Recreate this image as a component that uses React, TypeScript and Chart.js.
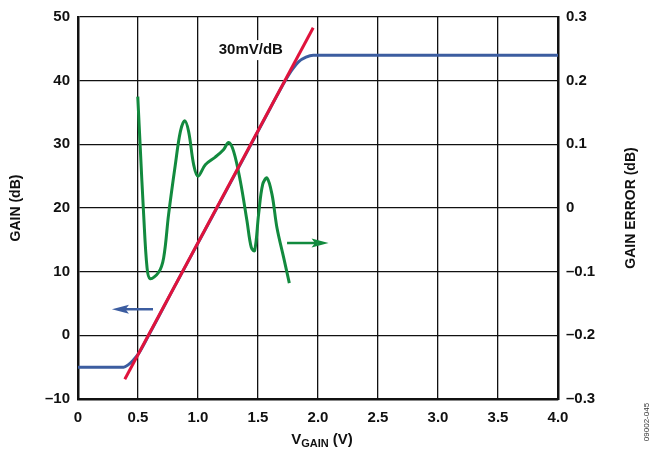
import React, { useEffect, useRef } from "react";
import { Chart, registerables } from "chart.js";

Chart.register(...registerables);

// ---- data ----
const xTicks = [0, 0.5, 1.0, 1.5, 2.0, 2.5, 3.0, 3.5, 4.0];
const gainTicks = [-10, 0, 10, 20, 30, 40, 50];
const errTicks = [-0.3, -0.2, -0.1, 0, 0.1, 0.2, 0.3];

// blue: measured gain (dB) vs VGAIN (V)
const gainV = [0, 0.1, 0.2, 0.3, 0.38, 0.42, 0.46, 0.5, 0.6, 0.8, 1.0, 1.2, 1.4, 1.6, 1.7, 1.78, 1.84, 1.9, 1.96, 2.0, 2.5, 3.0, 3.5, 4.0];
const gainDb = [-5, -5, -5, -5, -5, -4.6, -3.9, -3.0, 0.4, 7.5, 14.5, 21.5, 28.5, 35.6, 39.1, 41.6, 43.0, 43.7, 44, 44, 44, 44, 44, 44];

// red: 30 mV/dB ideal line
const idealV = [0.39, 1.96];
const idealDb = [-6.9, 48.3];

// green: gain error (dB)
const errV = [0.498, 0.519, 0.547, 0.575, 0.6, 0.672, 0.714, 0.755, 0.811, 0.853, 0.889, 0.922, 0.964, 1.0, 1.061, 1.144, 1.214, 1.255, 1.297, 1.353, 1.408, 1.444, 1.472, 1.505, 1.539, 1.575, 1.617, 1.658, 1.714, 1.761];
const errDb = [0.175, 0.094, -0.01, -0.093, -0.111, -0.101, -0.078, -0.01, 0.068, 0.12, 0.137, 0.12, 0.068, 0.05, 0.068, 0.08, 0.092, 0.103, 0.089, 0.042, -0.02, -0.062, -0.067, -0.01, 0.037, 0.047, 0.021, -0.031, -0.078, -0.118];

// annotation arrows: [tailX, tipX, y]
const blueArrow = [0.625, 0.283, 4.1];
const greenArrow = [1.742, 2.088, -0.055];
const slopeLabel = { text: "30mV/dB", x: 1.44, y: 44.8 };

const BLUE = "#3c5da0";
const RED = "#e0133c";
const GREEN = "#128a3e";
const FONT = "Arial, 'Liberation Sans', Helvetica, sans-serif";

const toPts = (xs: number[], ys: number[]) => xs.map((x, i) => ({ x, y: ys[i] }));

const fmt = (v: number) => {
  const r = Math.round(v * 10) / 10;
  if (r === 0) return "0";
  const s = Math.abs(r).toFixed(1);
  return (r < 0 ? "\u2013" : "") + s;
};
const fmtInt = (v: number) => (v < 0 ? "\u2013" + Math.abs(v) : String(v));

const drawArrow = (ctx: CanvasRenderingContext2D, x1: number, x2: number, y: number, color: string) => {
  const dir = Math.sign(x2 - x1);
  const headLen = 17;
  const headHalf = 4.5;
  ctx.save();
  ctx.strokeStyle = color;
  ctx.fillStyle = color;
  ctx.lineWidth = 2.5;
  ctx.beginPath();
  ctx.moveTo(x1, y);
  ctx.lineTo(x2 - dir * headLen * 0.6, y);
  ctx.stroke();
  ctx.beginPath();
  ctx.moveTo(x2, y);
  ctx.lineTo(x2 - dir * headLen, y - headHalf);
  ctx.lineTo(x2 - dir * headLen * 0.8, y);
  ctx.lineTo(x2 - dir * headLen, y + headHalf);
  ctx.closePath();
  ctx.fill();
  ctx.restore();
};

const annotPlugin = {
  id: "annot",
  afterDatasetsDraw(chart: any) {
    const ctx: CanvasRenderingContext2D = chart.ctx;
    const sx = chart.scales.x;
    const sy = chart.scales.y;
    const sy2 = chart.scales.y2;
    const area = chart.chartArea;

    // slope label with white box
    ctx.save();
    ctx.font = `bold 15px ${FONT}`;
    const lx = sx.getPixelForValue(slopeLabel.x);
    const ly = sy.getPixelForValue(slopeLabel.y);
    const w = ctx.measureText(slopeLabel.text).width;
    ctx.fillStyle = "#fff";
    ctx.fillRect(lx - w / 2 - 3, ly - 10, w + 6, 20);
    ctx.fillStyle = "#111";
    ctx.textAlign = "center";
    ctx.textBaseline = "middle";
    ctx.fillText(slopeLabel.text, lx, ly);
    ctx.restore();

    drawArrow(ctx, sx.getPixelForValue(blueArrow[0]), sx.getPixelForValue(blueArrow[1]), sy.getPixelForValue(blueArrow[2]), BLUE);
    drawArrow(ctx, sx.getPixelForValue(greenArrow[0]), sx.getPixelForValue(greenArrow[1]), sy2.getPixelForValue(greenArrow[2]), GREEN);

    // axis titles
    const cy = (area.top + area.bottom) / 2;
    ctx.save();
    ctx.fillStyle = "#111";
    ctx.font = `bold 14px ${FONT}`;
    ctx.textAlign = "center";
    ctx.textBaseline = "middle";
    ctx.translate(16, cy);
    ctx.rotate(-Math.PI / 2);
    ctx.fillText("GAIN (dB)", 0, 0);
    ctx.restore();

    ctx.save();
    ctx.fillStyle = "#111";
    ctx.font = `bold 14px ${FONT}`;
    ctx.textAlign = "center";
    ctx.textBaseline = "middle";
    ctx.translate(631, cy);
    ctx.rotate(-Math.PI / 2);
    ctx.fillText("GAIN ERROR (dB)", 0, 0);
    ctx.restore();

    // V_GAIN (V)
    ctx.save();
    ctx.fillStyle = "#111";
    ctx.textBaseline = "alphabetic";
    ctx.textAlign = "left";
    const bigF = `bold 15px ${FONT}`;
    const subF = `bold 11px ${FONT}`;
    ctx.font = bigF;
    const wV = ctx.measureText("V").width;
    const wTail = ctx.measureText(" (V)").width;
    ctx.font = subF;
    const wSub = ctx.measureText("GAIN").width;
    const total = wV + wSub + wTail;
    const cx = (area.left + area.right) / 2 + 4;
    let x0 = cx - total / 2;
    const base = 444;
    ctx.font = bigF;
    ctx.fillText("V", x0, base);
    x0 += wV;
    ctx.font = subF;
    ctx.fillText("GAIN", x0, base + 3);
    x0 += wSub;
    ctx.font = bigF;
    ctx.fillText(" (V)", x0, base);
    ctx.restore();

    // figure id
    ctx.save();
    ctx.fillStyle = "#333";
    ctx.font = `8px ${FONT}`;
    ctx.textAlign = "center";
    ctx.textBaseline = "middle";
    ctx.translate(647, 422);
    ctx.rotate(-Math.PI / 2);
    ctx.fillText("09002-045", 0, 0);
    ctx.restore();
  },
};

export default function App() {
  const ref = useRef<HTMLCanvasElement | null>(null);
  useEffect(() => {
    if (!ref.current) return;
    const tickFont = { family: FONT, size: 15, weight: "bold" as const };
    const chart = new Chart(ref.current, {
      type: "line",
      data: {
        datasets: [
          {
            label: "ideal",
            data: toPts(idealV, idealDb),
            borderColor: RED,
            borderWidth: 3,
            pointRadius: 0,
            yAxisID: "y",
            order: 0,
          },
          {
            label: "error",
            data: toPts(errV, errDb),
            borderColor: GREEN,
            borderWidth: 3,
            pointRadius: 0,
            tension: 0.35,
            yAxisID: "y2",
            order: 1,
          },
          {
            label: "gain",
            data: toPts(gainV, gainDb),
            borderColor: BLUE,
            borderWidth: 3,
            pointRadius: 0,
            cubicInterpolationMode: "monotone",
            yAxisID: "y",
            order: 2,
          },
        ],
      },
      options: {
        responsive: false,
        animation: false,
        events: [],
        layout: { padding: { top: 15, left: 0, right: 0, bottom: 0 } },
        plugins: { legend: { display: false }, tooltip: { enabled: false } },
        scales: {
          x: {
            type: "linear",
            position: "bottom",
            min: 0,
            max: 4,
            afterBuildTicks: (s: any) => {
              s.ticks = xTicks.map((v) => ({ value: v }));
            },
            ticks: {
              font: tickFont,
              color: "#111",
              padding: 10,
              maxRotation: 0,
              autoSkip: false,
              callback: (v: any) => (Number(v) === 0 ? "0" : Number(v).toFixed(1)),
            },
            grid: { color: "#111", lineWidth: 1.3, drawTicks: false },
            border: { color: "#111", width: 2.5 },
            afterFit: (s: any) => {
              s.height = 54;
            },
          },
          y: {
            type: "linear",
            position: "left",
            min: -10,
            max: 50,
            afterBuildTicks: (s: any) => {
              s.ticks = gainTicks.map((v) => ({ value: v }));
            },
            ticks: {
              font: tickFont,
              color: "#111",
              padding: 8,
              callback: (v: any) => fmtInt(Number(v)),
            },
            grid: { color: "#111", lineWidth: 1.3, drawTicks: false },
            border: { color: "#111", width: 2.5 },
            afterFit: (s: any) => {
              s.width = 78;
            },
          },
          y2: {
            type: "linear",
            position: "right",
            min: -0.3,
            max: 0.3,
            afterBuildTicks: (s: any) => {
              s.ticks = errTicks.map((v) => ({ value: v }));
            },
            ticks: {
              font: tickFont,
              color: "#111",
              padding: 8,
              callback: (v: any) => fmt(Number(v)),
            },
            grid: { display: false, drawTicks: false },
            border: { color: "#111", width: 2.5 },
            afterFit: (s: any) => {
              s.width = 95;
            },
          },
        },
      },
      plugins: [annotPlugin],
    });
    return () => chart.destroy();
  }, []);
  return (
    <div style={{ position: "absolute", left: 0, top: 0, width: 653, height: 453, background: "#fff" }}>
      <canvas ref={ref} width={653} height={453} style={{ display: "block" }} />
    </div>
  );
}
